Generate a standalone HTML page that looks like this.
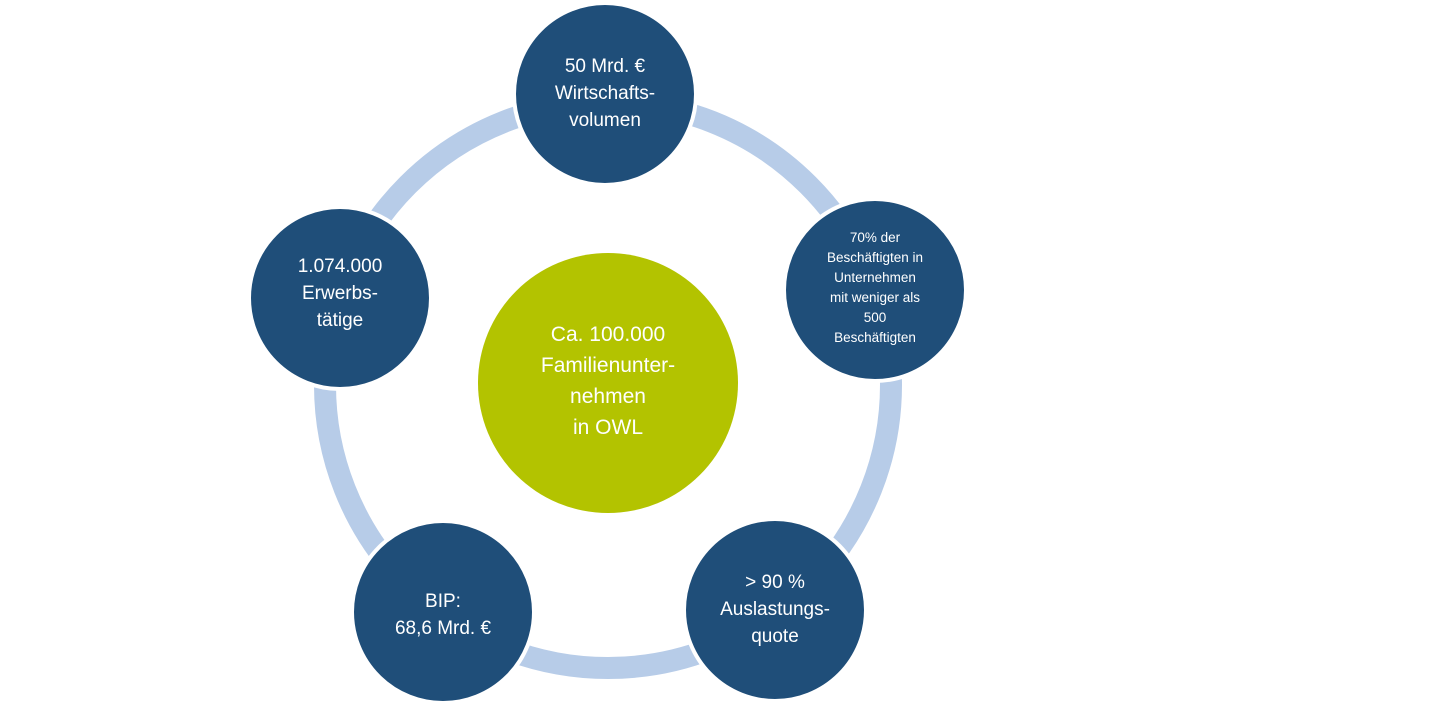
<!DOCTYPE html>
<html><head><meta charset="utf-8"><style>
html,body{margin:0;padding:0;background:#fff;}
svg{display:block}
text{font-family:"Liberation Sans",sans-serif;fill:#fff;text-anchor:middle}
</style></head><body>
<svg width="1450" height="712" viewBox="0 0 1450 712">
<circle cx="608" cy="385" r="283" fill="none" stroke="#b7cce8" stroke-width="22"/>
<circle cx="608" cy="383" r="130" fill="#b3c300"/>
<g fill="#1f4e79" stroke="#fff" stroke-width="4">
<circle cx="605" cy="94" r="91"/>
<circle cx="875" cy="290" r="91"/>
<circle cx="775" cy="610" r="91"/>
<circle cx="443" cy="612" r="91"/>
<circle cx="340" cy="298" r="91"/>
</g>
<g font-size="21">
<text x="608" y="341">Ca. 100.000</text>
<text x="608" y="372">Familienunter-</text>
<text x="608" y="403">nehmen</text>
<text x="608" y="434">in OWL</text>
</g>
<g font-size="19">
<text x="605" y="72">50 Mrd. €</text>
<text x="605" y="99">Wirtschafts-</text>
<text x="605" y="126">volumen</text>
<text x="340" y="272">1.074.000</text>
<text x="340" y="299">Erwerbs-</text>
<text x="340" y="326">tätige</text>
<text x="443" y="607">BIP:</text>
<text x="443" y="634">68,6 Mrd. €</text>
<text x="775" y="588">&gt; 90 %</text>
<text x="775" y="615">Auslastungs-</text>
<text x="775" y="642">quote</text>
</g>
<g font-size="13.5">
<text x="875" y="242">70% der</text>
<text x="875" y="262">Beschäftigten in</text>
<text x="875" y="282">Unternehmen</text>
<text x="875" y="302">mit weniger als</text>
<text x="875" y="322">500</text>
<text x="875" y="342">Beschäftigten</text>
</g>
</svg>
</body></html>
